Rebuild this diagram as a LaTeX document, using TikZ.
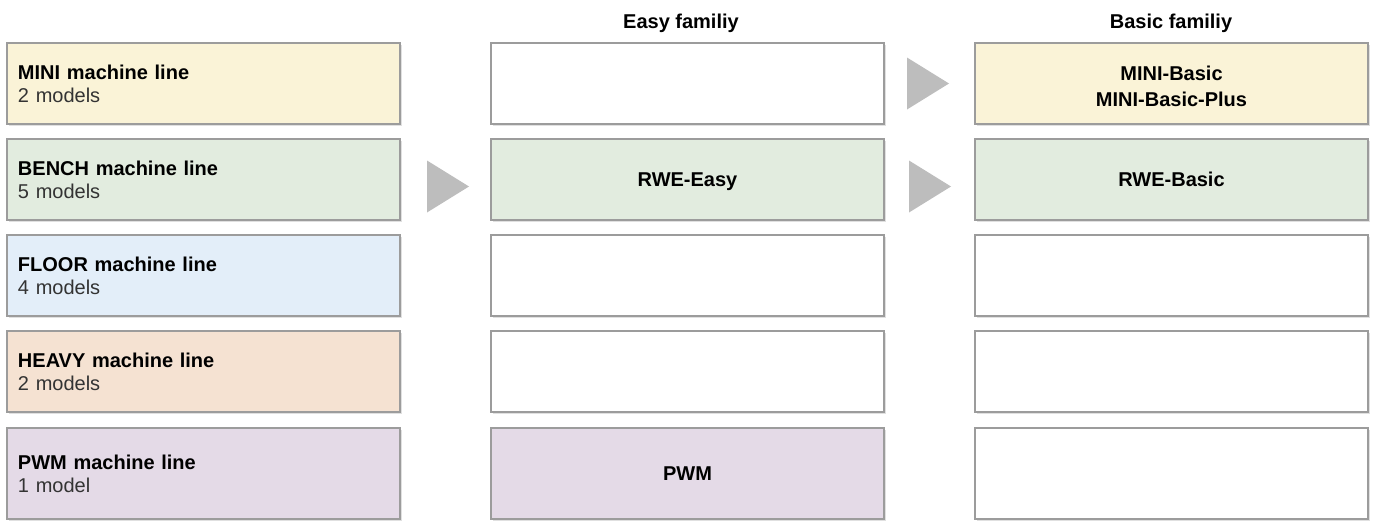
\documentclass[tikz,border=0pt]{standalone}
\usepackage{fontspec}
\setmainfont{Liberation Sans}
\usetikzlibrary{shadows,shapes.geometric,calc}

\definecolor{miniC}{HTML}{FAF3D7}
\definecolor{benchC}{HTML}{E2ECDF}
\definecolor{floorC}{HTML}{E3EEF9}
\definecolor{heavyC}{HTML}{F5E2D2}
\definecolor{pwmC}{HTML}{E4DAE7}
\definecolor{edgeC}{HTML}{9C9C9C}
\definecolor{arrowC}{HTML}{BDBDBD}

\tikzset{
  box/.style={draw=edgeC, line width=0.6pt, fill=white, inner sep=0pt,
    minimum width=196.5pt, minimum height=40.5pt,
    drop shadow={shadow xshift=0.8pt, shadow yshift=-0.8pt, fill=black, opacity=0.12},
    font=\fontsize{10}{11.6}\selectfont},
  linebox/.style={box, text width=185.5pt, inner xsep=5.5pt, align=left},
  famebox/.style={box, text width=196.5pt, align=center,
    font=\fontsize{10}{13.2}\selectfont\bfseries},
  oneline/.style={text depth=0pt},
  tallrow/.style={minimum height=45.5pt},
  header/.style={font=\fontsize{10}{12}\selectfont\bfseries},
  next/.style={isosceles triangle, isosceles triangle stretches, fill=arrowC,
    inner sep=0pt, minimum height=21pt, minimum width=26pt, draw=none, anchor=west},
}

\begin{document}
\begin{tikzpicture}[x=0.5pt,y=-0.5pt]
\useasboundingbox (0,0) rectangle (1375,520);

% column headers
\node[header] (hEasy)  at (681,23) {Easy familiy};
\node[header] (hBasic) at (1171,23) {Basic familiy};

% machine lines
\node[linebox, fill=miniC]  (m1) at (203.5,83.5)  {\textbf{MINI machine line}\\{\color{black!80}2 models}};
\node[linebox, fill=benchC] (m2) at (203.5,179.5) {\textbf{BENCH machine line}\\{\color{black!80}5 models}};
\node[linebox, fill=floorC] (m3) at (203.5,275.5) {\textbf{FLOOR machine line}\\{\color{black!80}4 models}};
\node[linebox, fill=heavyC] (m4) at (203.5,371.5) {\textbf{HEAVY machine line}\\{\color{black!80}2 models}};
\node[linebox, fill=pwmC, tallrow] (m5) at (203.5,473.5) {\textbf{PWM machine line}\\{\color{black!80}1 model}};

% Easy family
\node[famebox] (e1) at (687.5,83.5)  {};
\node[famebox, oneline, fill=benchC] (e2) at (687.5,179.5) {RWE-Easy};
\node[famebox] (e3) at (687.5,275.5) {};
\node[famebox] (e4) at (687.5,371.5) {};
\node[famebox, oneline, fill=pwmC, tallrow] (e5) at (687.5,473.5) {PWM};

% Basic family
\node[famebox, fill=miniC]  (b1) at (1171.5,83.5)  {\rule{0pt}{10.2pt}MINI-Basic\\MINI-Basic-Plus};
\node[famebox, oneline, fill=benchC] (b2) at (1171.5,179.5) {RWE-Basic};
\node[famebox] (b3) at (1171.5,275.5) {};
\node[famebox] (b4) at (1171.5,371.5) {};
\node[famebox, tallrow] (b5) at (1171.5,473.5) {};

% transitions between families
\node[next] (t1) at ($(m2.east)+(26,7)$) {};
\node[next] (t2) at ($(e1.east)+(22,0)$) {};
\node[next] (t3) at ($(e2.east)+(24,7)$) {};
\end{tikzpicture}
\end{document}
